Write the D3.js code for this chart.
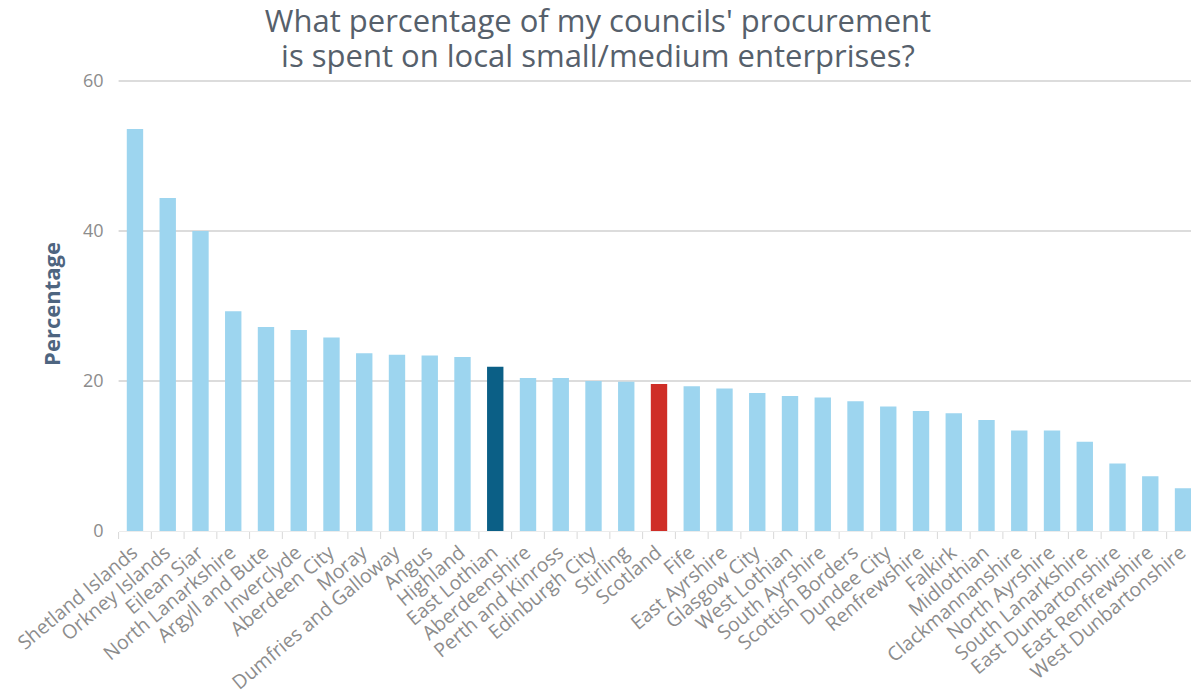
<!DOCTYPE html>
<html><head><meta charset="utf-8">
<script src="https://cdn.jsdelivr.net/npm/d3@7"></script>
<style>
html,body{margin:0;padding:0;background:#fff;overflow:hidden}
text{font-family:"Open Sans",sans-serif}
</style></head>
<body><svg id="c" width="1191" height="694"></svg>
<script>
const categories = ["Shetland Islands","Orkney Islands","Eilean Siar","North Lanarkshire","Argyll and Bute","Inverclyde","Aberdeen City","Moray","Dumfries and Galloway","Angus","Highland","East Lothian","Aberdeenshire","Perth and Kinross","Edinburgh City","Stirling","Scotland","Fife","East Ayrshire","Glasgow City","West Lothian","South Ayrshire","Scottish Borders","Dundee City","Renfrewshire","Falkirk","Midlothian","Clackmannanshire","North Ayrshire","South Lanarkshire","East Dunbartonshire","East Renfrewshire","West Dunbartonshire"];
const values = [53.6,44.4,40.0,29.3,27.2,26.8,25.8,23.7,23.5,23.4,23.2,21.9,20.4,20.4,20.0,19.9,19.6,19.3,19.0,18.4,18.0,17.8,17.3,16.6,16.0,15.7,14.8,13.4,13.4,11.9,9.0,7.3,5.7];
const highlight = {"East Lothian":"#0b5f86","Scotland":"#cf2e27"};
const yTicks = [0,20,40,60];
const titleLines = ["What percentage of my councils' procurement","is spent on local small/medium enterprises?"];
const yLabel = "Percentage";

const svg = d3.select("#c");
const mLeft = 118.6, mRight = 1199.4, mTop = 81, mBottom = 531;
const x = d3.scaleBand().domain(categories).range([mLeft, mRight]).paddingInner(0.5).paddingOuter(0.25);
const y = d3.scaleLinear().domain([0,60]).range([mBottom, mTop]);

svg.append("g").selectAll("line").data(yTicks.filter(d=>d>0)).join("line")
  .attr("x1", mLeft).attr("x2", 1191).attr("y1", d=>y(d)).attr("y2", d=>y(d))
  .attr("stroke", "#d0d0d0").attr("stroke-width", 1.5);

const ya = svg.append("g").attr("transform", `translate(${mLeft},0)`)
  .call(d3.axisLeft(y).tickValues(yTicks).tickSize(0).tickPadding(15));
ya.select(".domain").remove();
ya.selectAll("text").attr("fill", "#8c8c8c").style("font-size", "18px").style("font-family", "Open Sans");

svg.append("g").selectAll("rect").data(categories).join("rect")
  .attr("x", d=>x(d)).attr("width", x.bandwidth())
  .attr("y", (d,i)=>y(values[i])).attr("height", (d,i)=>y(0)-y(values[i]))
  .attr("fill", d=>highlight[d] || "#9dd5ef");

const step = x.step();
const xa = svg.append("g").attr("transform", `translate(0,${mBottom})`)
  .call(d3.axisBottom(x).tickSize(0).tickPadding(0));
xa.select(".domain").attr("stroke", "#ececec");
xa.selectAll(".tick").append("line").attr("x1", -step/2).attr("x2", -step/2).attr("y1", 1).attr("y2", 8).attr("stroke", "#d8d8d8");
xa.selectAll("text").attr("fill", "#8c8c8c").style("font-size", "19.5px").style("font-family", "Open Sans")
  .attr("text-anchor", "end").attr("y", null).attr("dy", "0.32em")
  .attr("transform", "translate(0,19) rotate(-40)");

svg.append("g").selectAll("text").data(titleLines).join("text")
  .attr("x", 598).attr("y", (d,i)=>32 + i*35).attr("text-anchor", "middle")
  .attr("fill", "#56606b").style("font-size", "31px").text(d=>d);

svg.append("text").attr("transform", `translate(52,304) rotate(-90)`)
  .attr("text-anchor", "middle").attr("dy", "0.35em").attr("fill", "#4e6580").style("font-size", "22px").style("font-weight", "bold").text(yLabel);
</script></body></html>
